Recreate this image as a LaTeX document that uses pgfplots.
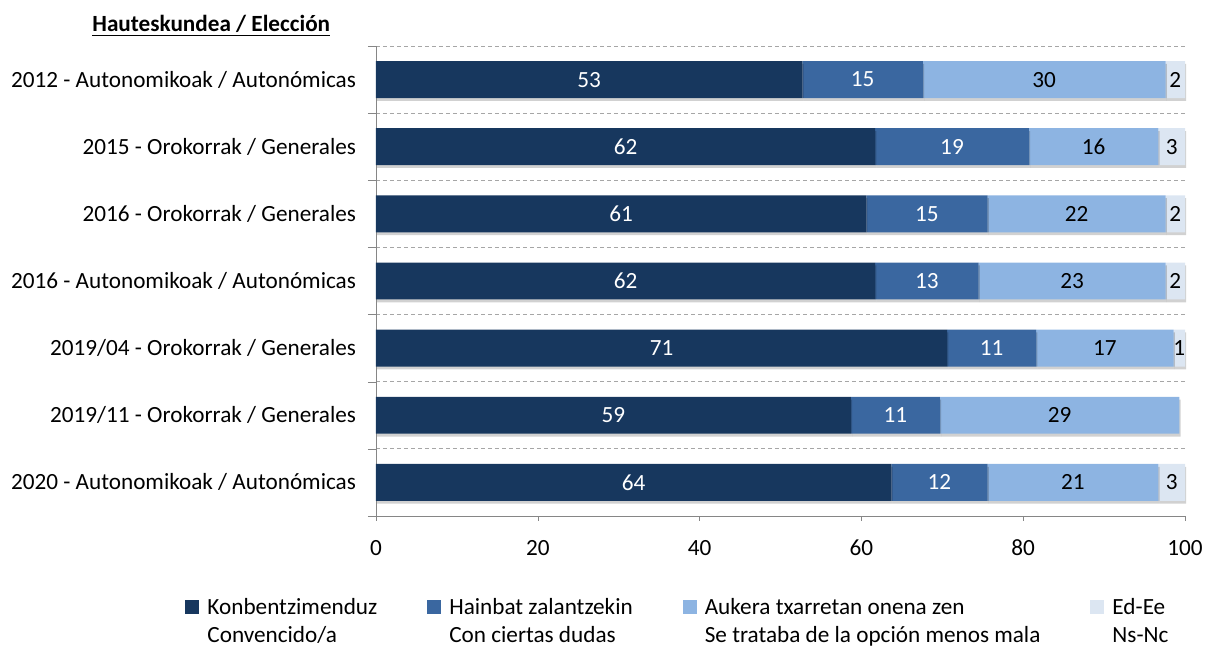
\documentclass[border=0pt]{standalone}
\usepackage{pgfplots}
\pgfplotsset{compat=1.18}
\usetikzlibrary{shadows}
\usepackage{fontspec}
\setmainfont{Carlito}
\definecolor{c1}{HTML}{17375E}
\definecolor{c2}{HTML}{3A67A0}
\definecolor{c3}{HTML}{8DB4E2}
\definecolor{c4}{HTML}{DCE6F2}
\definecolor{axgray}{HTML}{868686}
\definecolor{gridgray}{HTML}{A6A6A6}
\newcommand{\fs}{\fontsize{11.6}{14}\selectfont}
\tikzset{barshadow/.style={drop shadow={shadow xshift=0.6pt, shadow yshift=-1.4pt, opacity=0.18, fill=black}}}
\begin{document}
\begin{tikzpicture}
\begin{axis}[
  scale only axis, width=404.5pt, height=235pt,
  xbar stacked, bar width=0.55,
  xmin=0, xmax=100, ymin=-0.5, ymax=6.5,
  axis x line*=bottom, axis y line*=left,
  axis line style={-, axgray},
  tick align=outside,
  major tick length=2.5pt, minor tick length=4pt,
  xtick={0,20,...,100},
  ytick={0,...,6},
  minor ytick={-0.5,0.5,...,6.5},
  yticklabels={2020 - Autonomikoak / Autonómicas,
    2019/11 - Orokorrak / Generales,
    2019/04 - Orokorrak / Generales,
    2016 - Autonomikoak / Autonómicas,
    2016 - Orokorrak / Generales,
    2015 - Orokorrak / Generales,
    2012 - Autonomikoak / Autonómicas},
  major y tick style={draw=none},
  minor y tick style={axgray},
  major x tick style={axgray},
  yminorgrids, minor y grid style={gridgray, dash pattern=on 2pt off 1.5pt},
  /pgf/number format/assume math mode=true,
  ticklabel style={font=\fs, text=black},
  xticklabel style={yshift=-6pt},
  yticklabel style={xshift=-4pt},
  point meta=explicit symbolic,
  nodes near coords style={font=\fs},
  legend style={at={(rel axis cs:-0.236,-0.165)}, anchor=north west,
    draw=none, fill=none, inner sep=0pt,
    font=\fs,
    legend columns=4,
    /tikz/every odd column/.append style={column sep=2pt},
    /tikz/every even column/.append style={column sep=23pt},
    cells={align=left, anchor=west}},
  legend image code/.code={\fill[#1] (0pt,3.5pt) rectangle (7pt,10.5pt);},
  clip=false,
]
\addplot[fill=c1, draw=none, barshadow, forget plot, nodes near coords, nodes near coords style={text=white}]
 coordinates {(52.7,6) [53] (61.7,5) [62] (60.6,4) [61] (61.7,3) [62] (70.6,2) [71] (58.7,1) [59] (63.7,0) [64]};
\addplot[fill=c2, draw=none, barshadow, forget plot, nodes near coords, nodes near coords style={text=white}]
 coordinates {(14.9,6) [15] (19.0,5) [19] (15.0,4) [15] (12.8,3) [13] (11.0,2) [11] (11.0,1) [11] (11.9,0) [12]};
\addplot[fill=c3, draw=none, barshadow, forget plot, nodes near coords, nodes near coords style={text=black}]
 coordinates {(30.0,6) [30] (16.0,5) [16] (22.0,4) [22] (23.1,3) [23] (17.0,2) [17] (29.6,1) [29] (21.1,0) [21]};
\addplot[fill=c4, draw=none, barshadow, forget plot, nodes near coords, nodes near coords style={text=black}]
 coordinates {(2.4,6) [2] (3.3,5) [3] (2.4,4) [2] (2.4,3) [2] (1.4,2) [1] (0,1) [] (3.3,0) [3]};
\addlegendimage{fill=c1, draw=none}
\addlegendentry{Konbentzimenduz\\Convencido/a}
\addlegendimage{fill=c2, draw=none}
\addlegendentry{Hainbat zalantzekin\\Con ciertas dudas}
\addlegendimage{fill=c3, draw=none}
\addlegendentry{Aukera txarretan onena zen\\Se trataba de la opción menos mala}
\addlegendimage{fill=c4, draw=none}
\addlegendentry{Ed-Ee\\Ns-Nc}
\coordinate (O) at (rel axis cs:0,0);
\end{axis}
\node[anchor=base west, inner sep=0pt, font=\fs\bfseries] at ([shift={(-142pt,242pt)}]O) {\underline{Hauteskundea / Elección}};
\pgfresetboundingbox
\path ([shift={(-188pt,258pt)}]O) rectangle ([shift={(414.5pt,-65pt)}]O);
\end{tikzpicture}
\end{document}
